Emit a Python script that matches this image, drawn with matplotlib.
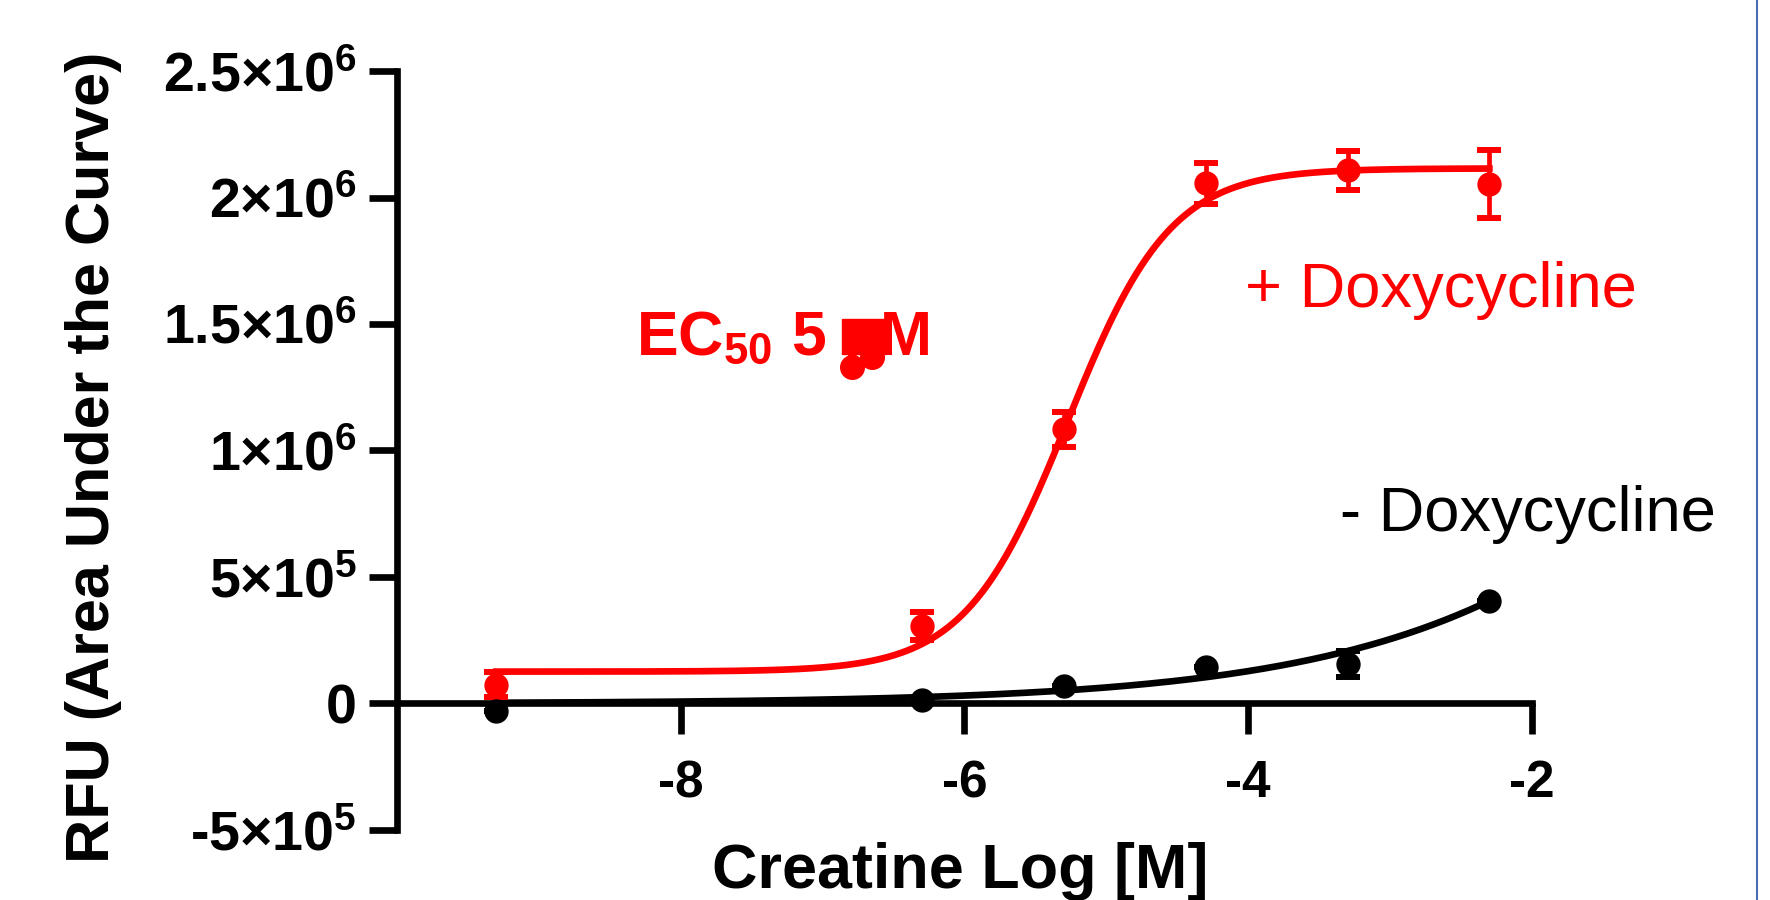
import numpy as np
import matplotlib.pyplot as plt
from matplotlib.patches import Rectangle
from matplotlib.lines import Line2D

#--- DATA ---#

log_conc = [-9.3, -6.3, -5.3, -4.3, -3.3, -2.3]

plus_dox = [75e3, 305e3, 1.083e6, 2.056e6, 2.107e6, 2.054e6]
plus_dox_err = [50e3, 55e3, 69e3, 82e3, 78e3, 135e3]

minus_dox = [-30e3, 12e3, 68e3, 146e3, 156e3, 406e3]
minus_dox_err = [0., 0., 0., 0., 51e3, 0.]

# 4PL fit parameters: bottom, top, logEC50, hill slope
plus_fit = [126e3, 2.115e6, -5.27, 1.2]
minus_fit = [0., 5.0e6, 1.10, 0.31]

x_ticks = [-8, -6, -4, -2]
x_ticklabels = ["-8", "-6", "-4", "-2"]
y_ticks = [-5e5, 0, 5e5, 1e6, 1.5e6, 2e6, 2.5e6]
y_ticklabels = ["-5×10$^{5}$", "0", "5×10$^{5}$", "1×10$^{6}$", "1.5×10$^{6}$",
                "2×10$^{6}$", "2.5×10$^{6}$"]

# red blobs sitting on top of the "µ" in the EC50 label
blob_x = [-6.79, -6.65]
blob_y = [1.33e6, 1.37e6]
blob_box = [-6.86, 1.38e6, 0.31, 0.14e6]

#--- FUNCTIONS ---#

def four_pl(x, bottom, top, logec50, hill):
    return bottom + (top - bottom)/(1. + 10**((logec50 - x)*hill))

#--- MAIN ---#

plt.rcParams['font.family'] = 'Liberation Sans'
plt.rcParams['mathtext.fontset'] = 'custom'
plt.rcParams['mathtext.rm'] = 'Liberation Sans:bold'
plt.rcParams['mathtext.it'] = 'Liberation Sans:bold'
plt.rcParams['mathtext.default'] = 'rm'

red = '#ff0000'

fig = plt.figure(figsize=(17.7, 9), dpi=100)
ax = fig.add_axes([0.2243, 0.0778, 0.6412, 0.8433])

xfit = np.linspace(log_conc[0], log_conc[-1], 400)
ax.plot(xfit, four_pl(xfit, *plus_fit), color=red, lw=4.8, zorder=2)
ax.plot(xfit, four_pl(xfit, *minus_fit), color='black', lw=4.8, zorder=2)

ax.errorbar(log_conc, plus_dox, yerr=plus_dox_err, fmt='o', color=red, ms=16.5,
            elinewidth=3.4, capsize=8.5, capthick=4.3, zorder=3)
ax.errorbar(log_conc, minus_dox, yerr=minus_dox_err, fmt='o', color='black', ms=16.5,
            elinewidth=3.4, capsize=8.5, capthick=4.3, zorder=3)

ax.set_xlim(-10, -2)
ax.set_ylim(-5e5, 2.5e6)

for side in ['top', 'right']:
    ax.spines[side].set_visible(False)
ax.spines['bottom'].set_position(('data', 0))
for side in ['left', 'bottom']:
    ax.spines[side].set_linewidth(4.8)

ax.set_xticks(x_ticks)
ax.set_xticklabels(x_ticklabels, fontsize=37, fontweight='bold')
ax.set_yticks(y_ticks)
ax.set_yticklabels(y_ticklabels, fontsize=40, fontweight='bold')
ax.tick_params(axis='x', direction='out', length=22, width=4.8, pad=18)
ax.tick_params(axis='y', direction='out', length=20, width=4.8, pad=9)

# annotations
fig.text(0.3593, 0.6056, "EC$_{50}$ 5 µM", color=red, fontsize=45, fontweight='bold',
         va='baseline', ha='left')
ax.plot(blob_x, blob_y, 'o', color=red, ms=17, zorder=4)
ax.add_patch(Rectangle((blob_box[0], blob_box[1]), blob_box[2], blob_box[3],
                       color=red, zorder=4))
fig.text(0.7034, 0.659, "+ Doxycycline", color=red, fontsize=45.5, va='baseline', ha='left')
fig.text(0.757, 0.410, "- Doxycycline", color='black', fontsize=45.5, va='baseline', ha='left')

fig.text(0.5424, 0.0133, "Creatine Log [M]", fontsize=45.3, fontweight='bold',
         va='baseline', ha='center')
fig.text(0.053, 0.492, "RFU (Area Under the Curve)", fontsize=44, fontweight='bold',
         rotation=90, va='center', ha='center')

# thin frame edge at the right
fig.add_artist(Line2D([0.9927, 0.9927], [0, 1], transform=fig.transFigure,
                      color='#4a6cb3', lw=1.5))

plt.savefig("out.png", dpi=100)
plt.close()
